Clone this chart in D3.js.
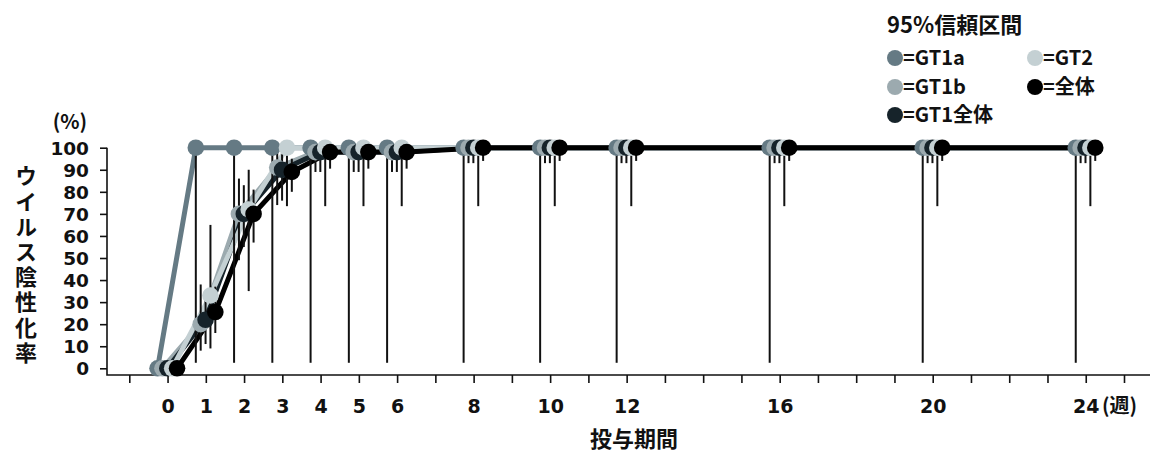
<!DOCTYPE html>
<html lang="ja">
<head>
<meta charset="utf-8">
<script src="https://cdn.jsdelivr.net/npm/d3@7"></script>
<style>
  html, body { margin: 0; padding: 0; background: #fff; }
  svg { display: block; }
  text { font-family: "Noto Sans CJK JP", "Noto Sans", sans-serif; font-weight: 700; fill: #111; }
  .num { font-family: "DejaVu Sans", "Noto Sans", sans-serif; }
</style>
</head>
<body>
<svg id="chart" width="1152" height="454"></svg>
<script>
// Weeks of treatment at which the negative-conversion rate was measured
const weeks = [0, 1, 2, 3, 4, 5, 6, 8, 10, 12, 16, 20, 24];
const labelledWeeks = [0, 1, 2, 3, 4, 5, 6, 8, 10, 12, 16, 20, 24];
const yTicks = [0, 10, 20, 30, 40, 50, 60, 70, 80, 90, 100];

// Series, in drawing order (back to front)
const seriesNames = ["GT1a", "GT1b", "GT1全体", "GT2", "全体"];

// Viral negative-conversion rate (%) per week
const gt1a    = [0, 100, 100, 100, 100, 100, 100, 100, 100, 100, 100, 100, 100];
const gt1b    = [0, 20, 70, 91, 98, 98, 98, 100, 100, 100, 100, 100, 100];
const gt1All  = [0, 22, 70, 90, 98, 98, 98, 100, 100, 100, 100, 100, 100];
const gt2     = [0, 33, 72, 100, 100, 100, 100, 100, 100, 100, 100, 100, 100];
const overall = [0, 25.5, 70, 89, 98, 98, 98, 100, 100, 100, 100, 100, 100];

// 95% confidence interval bounds (%) per week; null = not shown
const gt1aLower    = [null, 2.5, 2.5, 2.5, 2.5, 2.5, 2.5, 2.5, 2.5, 2.5, 2.5, 2.5, 2.5];
const gt1aUpper    = [null, 100, 100, 100, 100, 100, 100, 100, 100, 100, 100, 100, 100];
const gt1bLower    = [null, 8, 49, 74, 89, 89, 89, 93, 93, 93, 93, 93, 93];
const gt1bUpper    = [null, 38, 86, 99, 100, 100, 100, 100, 100, 100, 100, 100, 100];
const gt1AllLower  = [null, 11, 55, 76, 89, 89, 89, 93, 93, 93, 93, 93, 93];
const gt1AllUpper  = [null, 34, 83, 97, 100, 100, 100, 100, 100, 100, 100, 100, 100];
const gt2Lower     = [null, 9, 35, 73.5, 73.5, 73.5, 73.5, 73.5, 73.5, 73.5, 73.5, 73.5, 73.5];
const gt2Upper     = [null, 65, 90, 100, 100, 100, 100, 100, 100, 100, 100, 100, 100];
const overallLower = [null, 16, 57, 80, 90.5, 90.5, 90.5, 94, 94, 94, 94, 94, 94];
const overallUpper = [null, 37, 81, 95, 100, 100, 100, 100, 100, 100, 100, 100, 100];

const seriesValues = [gt1a, gt1b, gt1All, gt2, overall];
const seriesLower  = [gt1aLower, gt1bLower, gt1AllLower, gt2Lower, overallLower];
const seriesUpper  = [gt1aUpper, gt1bUpper, gt1AllUpper, gt2Upper, overallUpper];
const seriesColors = ["#657a84", "#9caaaf", "#16232a", "#c4d0d3", "#000000"];

// Legend layout: [series index, column, row]
const legendOrder = [[0, 0, 0], [3, 1, 0], [1, 0, 1], [4, 1, 1], [2, 0, 2]];

const svg = d3.select("#chart");

const x = d3.scaleLinear().domain([-1, 25]).range([129.3, 1124]);
const y = d3.scaleLinear().domain([0, 100]).range([368.3, 147.7]);
// horizontal dodge of the series around each week
const dodge = d3.scalePoint().domain(seriesNames).range([-10, 9.5]);

const axisX0 = 107, axisY0 = 375;

// ---- axes ----
const yAxis = d3.axisLeft(y).tickValues(yTicks).tickSize(7).tickPadding(11).tickSizeOuter(0);
const gy = svg.append("g").attr("transform", `translate(${axisX0},0)`).call(yAxis);
gy.select(".domain").remove();
gy.selectAll(".tick line").attr("stroke", "#111").attr("stroke-width", 1.6);
gy.selectAll(".tick text")
  .attr("class", "num")
  .attr("font-size", 18.5).attr("fill", "#111")
  .attr("dy", "0.36em");

const xAxis = d3.axisBottom(x).tickValues(d3.range(-1, 26)).tickSize(8).tickSizeOuter(0)
  .tickFormat(d => labelledWeeks.includes(d) ? String(d) : "");
const gx = svg.append("g").attr("transform", `translate(0,${axisY0})`).call(xAxis);
gx.select(".domain").remove();
gx.selectAll(".tick line").attr("stroke", "#111").attr("stroke-width", 1.6);
gx.selectAll(".tick text")
  .attr("class", "num")
  .attr("font-size", 19).attr("fill", "#111")
  .attr("y", 38).attr("dy", 0);

// axis lines
svg.append("path")
  .attr("d", `M${axisX0},${y(100)}V${axisY0}H1150`)
  .attr("fill", "none").attr("stroke", "#111").attr("stroke-width", 1.6);

// unit labels
svg.append("text").attr("x", 1102).attr("y", axisY0 + 38)
  .attr("font-size", 20).text("(週)");
svg.append("text").attr("x", 70).attr("y", 129).attr("text-anchor", "middle")
  .attr("font-size", 20).text("(%)");

// axis titles
svg.append("text")
  .attr("x", 26).attr("y", 165)
  .attr("font-size", 22)
  .style("writing-mode", "vertical-rl")
  .style("text-orientation", "upright")
  .style("letter-spacing", "3.2px")
  .text("ウイルス陰性化率");

svg.append("text").attr("x", 634).attr("y", 447).attr("text-anchor", "middle")
  .attr("font-size", 22).text("投与期間");

// ---- data ----
const plot = svg.append("g");

const line = d3.line()
  .x(d => x(d.week) + d.dx)
  .y(d => y(d.value));

const seriesData = seriesNames.map((name, s) => ({
  name, color: seriesColors[s],
  points: weeks.map((w, i) => ({
    week: w, dx: dodge(name), value: seriesValues[s][i],
    lower: seriesLower[s][i], upper: seriesUpper[s][i]
  }))
}));

// connecting lines
plot.selectAll("path.series").data(seriesData).join("path")
  .attr("class", "series")
  .attr("d", d => line(d.points))
  .attr("fill", "none").attr("stroke", d => d.color)
  .attr("stroke-width", 5).attr("stroke-linejoin", "round");

// 95% CI bars
plot.selectAll("g.ci").data(seriesData).join("g").attr("class", "ci")
  .selectAll("line").data(d => d.points.filter(p => p.lower !== null)).join("line")
  .attr("x1", d => x(d.week) + d.dx).attr("x2", d => x(d.week) + d.dx)
  .attr("y1", d => y(d.upper)).attr("y2", d => y(d.lower))
  .attr("stroke", "#111").attr("stroke-width", 2);

// markers
plot.selectAll("g.markers").data(seriesData).join("g").attr("class", "markers")
  .attr("fill", d => d.color)
  .selectAll("circle").data(d => d.points).join("circle")
  .attr("cx", d => x(d.week) + d.dx).attr("cy", d => y(d.value)).attr("r", 8.3);

// ---- legend ----
const legend = svg.append("g");
legend.append("text").attr("x", 887).attr("y", 33).attr("font-size", 22).text("95%信頼区間");
const colX = [895, 1035], rowY = [58, 87, 115];
const items = legend.selectAll("g.item").data(legendOrder).join("g").attr("class", "item")
  .attr("transform", d => `translate(${colX[d[1]]},${rowY[d[2]]})`);
items.append("circle").attr("r", 8).attr("fill", d => seriesColors[d[0]]);
items.append("text").attr("x", 8).attr("dy", "0.36em").attr("font-size", 20)
  .text(d => "=" + seriesNames[d[0]]);
</script>
</body>
</html>
